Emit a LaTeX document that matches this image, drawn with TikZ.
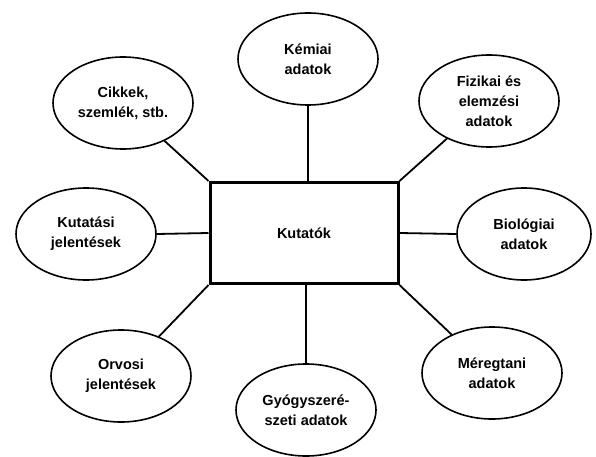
\documentclass[tikz,border=0pt]{standalone}
\usepackage{fontspec}
\setmainfont{Liberation Sans}
\usetikzlibrary{shapes.geometric}

\begin{document}
\begin{tikzpicture}[x=1pt,y=-1pt,
    font=\bfseries\fontsize{14.5}{20}\selectfont,
    forras/.style={ellipse,draw,line width=1.6pt,minimum width=140pt,minimum height=92pt,inner sep=0pt,align=center},
    kozpont/.style={rectangle,draw,line width=3pt,minimum width=188pt,minimum height=101pt},
    kapocs/.style={line width=1.8pt}]
  \useasboundingbox (0,0) rectangle (596,457);
  % central box
  \node[kozpont] (kut) at (304,233) {Kutatók};
  % sources round it
  \node[forras] (kem) at (308,59) {Kémiai\\adatok};
  \node[forras] (cikk) at (123,103) {Cikkek,\\szemlék, stb.};
  \node[forras] (fiz) at (489,101) {Fizikai és\\elemzési\\adatok};
  \node[forras] (jel) at (86,234) {Kutatási\\jelentések};
  \node[forras,minimum width=134pt] (bio) at (524,234) {Biológiai\\adatok};
  \node[forras] (orv) at (121,376) {Orvosi\\jelentések};
  \node[forras] (gyo) at (306,410) {Gyógyszeré-\\szeti adatok};
  \node[forras] (mer) at (492,373) {Méregtani\\adatok};
  % connectors
  \draw[kapocs] (kem.south) -- (kem.south |- kut.north);
  \draw[kapocs] (cikk) -- (kut.north west);
  \draw[kapocs] (fiz) -- (kut.north east);
  \draw[kapocs] (jel.east) -- (kut.west);
  \draw[kapocs] (bio.west) -- (kut.east);
  \draw[kapocs] (orv) -- (kut.south west);
  \draw[kapocs] (gyo.north) -- (gyo.north |- kut.south);
  \draw[kapocs] (mer) -- (kut.south east);
\end{tikzpicture}
\end{document}
